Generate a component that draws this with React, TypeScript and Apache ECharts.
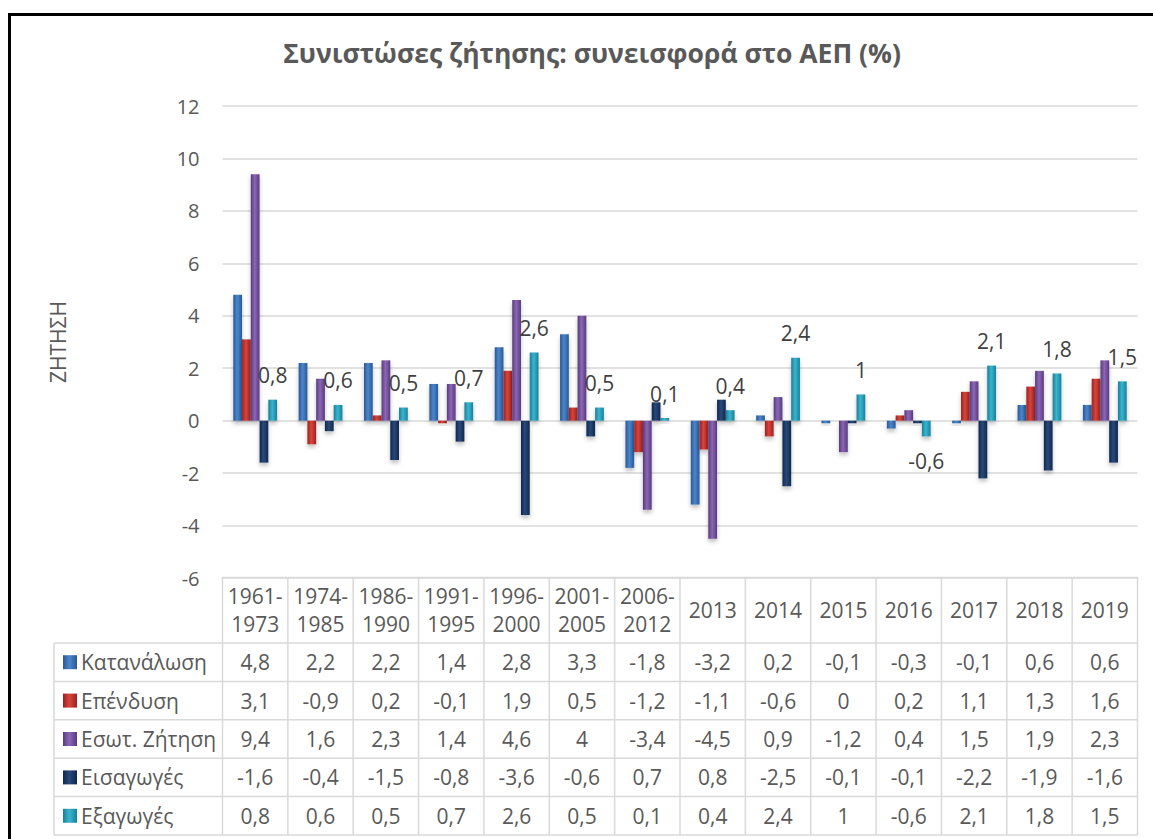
import React, { useEffect, useRef } from 'react';
import * as echarts from 'echarts';

const categories = ['1961-\n1973', '1974-\n1985', '1986-\n1990', '1991-\n1995', '1996-\n2000', '2001-\n2005', '2006-\n2012', '2013', '2014', '2015', '2016', '2017', '2018', '2019'];
const seriesNames = ['Κατανάλωση', 'Επένδυση', 'Εσωτ. Ζήτηση', 'Εισαγωγές', 'Εξαγωγές'];
const consumption = [4.8, 2.2, 2.2, 1.4, 2.8, 3.3, -1.8, -3.2, 0.2, -0.1, -0.3, -0.1, 0.6, 0.6];
const investment = [3.1, -0.9, 0.2, -0.1, 1.9, 0.5, -1.2, -1.1, -0.6, 0, 0.2, 1.1, 1.3, 1.6];
const domesticDemand = [9.4, 1.6, 2.3, 1.4, 4.6, 4, -3.4, -4.5, 0.9, -1.2, 0.4, 1.5, 1.9, 2.3];
const imports = [-1.6, -0.4, -1.5, -0.8, -3.6, -0.6, 0.7, 0.8, -2.5, -0.1, -0.1, -2.2, -1.9, -1.6];
const exportsData = [0.8, 0.6, 0.5, 0.7, 2.6, 0.5, 0.1, 0.4, 2.4, 1, -0.6, 2.1, 1.8, 1.5];
const allSeries = [consumption, investment, domesticDemand, imports, exportsData];
const Y_MIN = -6;
const Y_MAX = 12;
const Y_STEP = 2;

const FONT = '"Open Sans", "Noto Sans", sans-serif';
const TEXT = '#595959';
const GRID = '#d9d9d9';
const FS = 21;

const palettes = [
  { edge: '#2a5894', mid: '#4b86cc' },
  { edge: '#9c2320', mid: '#d9433c' },
  { edge: '#573b7d', mid: '#8c66b6' },
  { edge: '#12284a', mid: '#28497c' },
  { edge: '#1b7f98', mid: '#38b5cf' },
];

const fmt = (v: number) => String(v).replace('.', ',');

const grad = (p: { edge: string; mid: string }) =>
  new echarts.graphic.LinearGradient(0, 0, 1, 0, [
    { offset: 0, color: p.edge },
    { offset: 0.45, color: p.mid },
    { offset: 1, color: p.edge },
  ]);

export default function App() {
  const ref = useRef<HTMLDivElement>(null);
  useEffect(() => {
    if (!ref.current) return;
    const chart = echarts.init(ref.current, null, { renderer: 'svg' });
    const option: any = {
      animation: false,
      backgroundColor: '#fff',
      title: {
        text: 'Συνιστώσες ζήτησης: συνεισφορά στο ΑΕΠ (%)',
        left: 587,
        top: 34,
        textAlign: 'center',
        textStyle: { fontFamily: FONT, fontSize: 26.5, fontWeight: 'bold', color: TEXT },
      },
      grid: { left: 222.5, right: 15.5, top: 106, bottom: 261 },
      xAxis: {
        type: 'category',
        data: categories,
        axisLine: { show: false },
        axisTick: { show: false },
        axisLabel: { show: false },
      },
      yAxis: {
        type: 'value',
        min: Y_MIN,
        max: Y_MAX,
        interval: Y_STEP,
        name: 'ΖΗΤΗΣΗ',
        nameLocation: 'middle',
        nameRotate: 90,
        nameGap: 154,
        nameTextStyle: { fontFamily: FONT, fontSize: 21, color: TEXT },
        axisLine: { show: false },
        axisTick: { show: false },
        axisLabel: { fontFamily: FONT, fontSize: 20, color: TEXT, margin: 23 },
        splitLine: { lineStyle: { color: GRID, width: 1.5 } },
      },
      series: allSeries.map((vals, si) => ({
        type: 'bar',
        name: seriesNames[si],
        barGap: '0%',
        barCategoryGap: '33%',
        itemStyle: {
          color: grad(palettes[si]),
          shadowColor: 'rgba(0,0,0,0.25)',
          shadowBlur: 4,
          shadowOffsetY: 3,
        },
        data: vals.map((v) =>
          si === 4
            ? {
                value: v,
                label: {
                  show: true,
                  position: v < 0 ? 'bottom' : 'top',
                  distance: 14,
                  formatter: (p: any) => fmt(p.value),
                  fontFamily: FONT,
                  fontSize: FS,
                  color: '#404040',
                },
              }
            : v
        ),
      })),
    };
    chart.setOption(option);

    const centers = categories.map((_, i) => chart.convertToPixel({ xAxisIndex: 0 }, i) as number);
    const colW = centers[1] - centers[0];
    const xs = centers.map((c) => c - colW / 2);
    const xEnd = centers[centers.length - 1] + colW / 2;
    const tTop = chart.convertToPixel({ yAxisIndex: 0 }, Y_MIN) as number;
    const hTop = tTop - 0.5;
    const hBot = 643;
    const rowH = 38.4;
    const rowYs = seriesNames.map((_, i) => hBot + i * rowH);
    const tBot = hBot + seriesNames.length * rowH;
    const legLeft = 54;
    const line = (x1: number, y1: number, x2: number, y2: number) => ({
      type: 'line',
      silent: true,
      shape: { x1, y1, x2, y2 },
      style: { stroke: GRID, lineWidth: 1.5 },
    });
    const els: any[] = [];
    els.push(line(xs[0], hTop, xEnd, hTop));
    [...xs, xEnd].forEach((x) => els.push(line(x, hTop, x, tBot)));
    els.push(line(legLeft, hBot, legLeft, tBot));
    for (let i = 0; i <= seriesNames.length; i++) {
      els.push(line(legLeft, hBot + i * rowH, xEnd, hBot + i * rowH));
    }
    categories.forEach((c, i) => {
      els.push({
        type: 'text',
        silent: true,
        x: centers[i],
        y: (hTop + hBot) / 2,
        style: {
          text: c,
          align: 'center',
          verticalAlign: 'middle',
          lineHeight: 28,
          fontFamily: FONT,
          fontSize: FS,
          fill: TEXT,
        },
      });
    });
    seriesNames.forEach((name, si) => {
      const cy = rowYs[si] + rowH / 2;
      els.push({
        type: 'rect',
        silent: true,
        shape: { x: 63, y: cy - 7, width: 14, height: 14 },
        style: { fill: grad(palettes[si]) },
      });
      els.push({
        type: 'text',
        silent: true,
        x: 81,
        y: cy,
        style: { text: name, align: 'left', verticalAlign: 'middle', fontFamily: FONT, fontSize: FS, fill: TEXT },
      });
      allSeries[si].forEach((v, i) => {
        els.push({
          type: 'text',
          silent: true,
          x: centers[i],
          y: cy,
          style: { text: fmt(v), align: 'center', verticalAlign: 'middle', fontFamily: FONT, fontSize: FS, fill: TEXT },
        });
      });
    });
    els.push({
      type: 'rect',
      silent: true,
      shape: { x: 9.5, y: 14.5, width: 1170, height: 860 },
      style: { fill: 'none', stroke: '#000', lineWidth: 3 },
    });
    chart.setOption({ graphic: { elements: els } });
    return () => chart.dispose();
  }, []);
  return (
    <div
      ref={ref}
      style={{ position: 'fixed', left: 0, top: 0, width: 1153, height: 839, background: '#fff' }}
    />
  );
}
